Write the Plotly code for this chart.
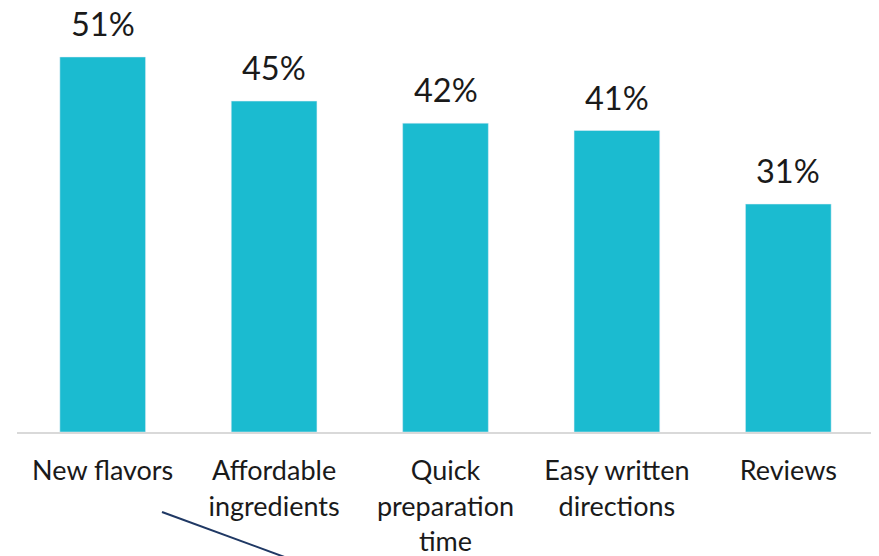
import plotly.graph_objects as go

categories = ["New flavors", "Affordable<br>ingredients", "Quick<br>preparation<br>time", "Easy written<br>directions", "Reviews"]
values = [51, 45, 42, 41, 31]
labels = ["51%", "45%", "42%", "41%", "31%"]

# page is rendered with an 8px body margin
W, H = 871, 548
ml, mr, mt, mb = 9, 5, 0, 124
pw, ph = W - ml - mr, H - mt - mb

fig = go.Figure()
fig.add_trace(go.Bar(x=categories, y=values, marker_color="#1BBBD0", width=0.5,
                     hoverinfo="skip"))

for c, v, t in zip(categories, values, labels):
    fig.add_annotation(x=c, y=v, text=t, showarrow=False, yanchor="bottom",
                       yshift=12, font=dict(size=32.5, color="#1a1a1a", family="Lato"))

fig.add_shape(type="line", xref="paper", yref="paper",
              x0=(154 - ml) / pw, y0=-(504 - (H - mb)) / ph,
              x1=(282 - ml) / pw, y1=-(551 - (H - mb)) / ph,
              line=dict(color="#1F3864", width=2))

fig.update_layout(
    width=W, height=H,
    margin=dict(l=ml, r=mr, t=mt, b=mb, autoexpand=False),
    plot_bgcolor="white", paper_bgcolor="white",
    showlegend=False,
    font=dict(family="Lato", size=27, color="#1a1a1a"),
)
fig.update_xaxes(showline=True, linecolor="#D9D9D9", linewidth=2, ticks="",
                 tickfont=dict(size=27), ticklabelstandoff=14, automargin=False)
fig.update_yaxes(range=[0, 57.66], visible=False, showgrid=False, automargin=False)

fig.write_html("out.html")
